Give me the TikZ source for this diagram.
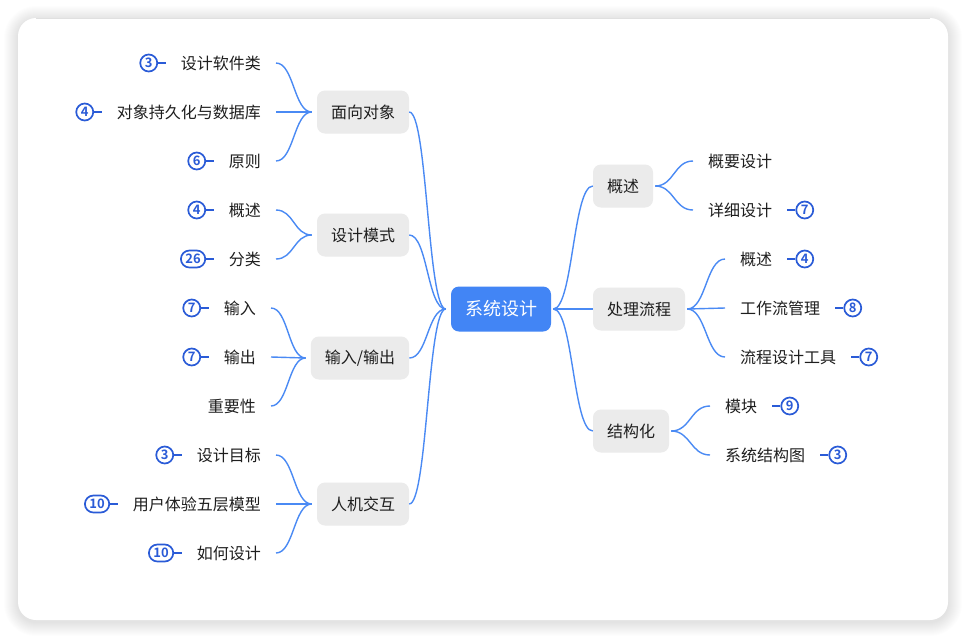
\documentclass[tikz,border=0pt]{standalone}
\usepackage{fontspec}
\setmainfont{Noto Sans CJK SC}[BoldFont={Noto Sans CJK SC Bold}]
\usepackage{tikz}
\usetikzlibrary{positioning, calc}
\definecolor{LinkBlue}{RGB}{74, 138, 244}
\definecolor{RootBlue}{RGB}{66, 133, 245}
\definecolor{BadgeBlue}{RGB}{42, 91, 215}
\definecolor{BoxGray}{RGB}{235, 235, 235}
\definecolor{TextDark}{RGB}{30, 30, 30}

\tikzset{
  curve/.style={to path={let \p1=(\tikztostart), \p2=(\tikztotarget) in
      .. controls ({(\x1+\x2)/2},\y1) and ({(\x1+\x2)/2},\y2) .. (\tikztotarget)}},
  link/.style={draw=LinkBlue, line width=1.4pt},
  rootbox/.style={fill=RootBlue, text=white, rounded corners=8pt, minimum height=45pt,
      inner xsep=14pt, font=\fontsize{18}{20}\selectfont},
  topic/.style={fill=BoxGray, text=TextDark, rounded corners=8pt, minimum height=43pt,
      inner xsep=14pt, font=\fontsize{16}{18}\selectfont},
  leaf/.style={text=TextDark, inner xsep=15pt, inner ysep=3pt, font=\fontsize{16}{18}\selectfont},
  badge/.style={draw=BadgeBlue, text=BadgeBlue, line width=1.7pt, rounded corners=8.5pt,
      minimum height=17pt, minimum width=17pt, inner xsep=4.5pt, inner ysep=0pt,
      font=\fontsize{13}{13}\selectfont\bfseries},
  badgeline/.style={draw=BadgeBlue, line width=1.7pt}
}

\begin{document}
\begin{tikzpicture}[x=1pt, y=-1pt]
  \useasboundingbox (0,0) rectangle (966,638);
  \fill[white] (0,0) rectangle (966,638);

  % card with shadow
  \foreach \i in {1,...,14}
    \fill[black, opacity=0.007, rounded corners={18+\i}] (18-\i,18-\i+2) rectangle (948+\i,620+\i+2);
  \fill[white, rounded corners=18pt] (18,18) rectangle (948,620);
  \draw[black!12, line width=0.6pt] (36,18) -- (930,18);

  % root
  \node[rootbox] (root) at (501,309) {系统设计};

  % left topics
  \node[topic] (oop) at (363,112) {面向对象};
  \node[topic] (pattern) at (363,235) {设计模式};
  \node[topic] (io) at (360,358) {输入/输出};
  \node[topic] (hci) at (363,504) {人机交互};

  % right topics
  \node[topic] (intro) at (623,186) {概述};
  \node[topic] (flow) at (639,309) {处理流程};
  \node[topic] (struct) at (631,431) {结构化};

  \draw[link] ([xshift=-5pt]root.west) to[curve] (oop.east);
  \draw[link] ([xshift=-5pt]root.west) to[curve] (pattern.east);
  \draw[link] ([xshift=-5pt]root.west) to[curve] (io.east);
  \draw[link] ([xshift=-5pt]root.west) to[curve] (hci.east);
  \draw[link] ([xshift=2pt]root.east) to[curve] (intro.west);
  \draw[link] ([xshift=2pt]root.east) to[curve] (flow.west);
  \draw[link] ([xshift=2pt]root.east) to[curve] (struct.west);

  % 面向对象
  \node[leaf, anchor=east] (oop1) at (276,63) {设计软件类};
  \node[leaf, anchor=east] (oop2) at (276,112) {对象持久化与数据库};
  \node[leaf, anchor=east] (oop3) at (276,161) {原则};
  \node[badge, left=7.5pt of oop1] (oopb1) {3};
  \node[badge, left=7.5pt of oop2] (oopb2) {4};
  \node[badge, left=7.5pt of oop3] (oopb3) {6};
  \draw[badgeline] (oopb1) -- (oop1.west);
  \draw[badgeline] (oopb2) -- (oop2.west);
  \draw[badgeline] (oopb3) -- (oop3.west);
  \draw[link] ([xshift=-5pt]oop.west) to[curve] (oop1.east);
  \draw[link] ([xshift=-5pt]oop.west) to[curve] (oop2.east);
  \draw[link] ([xshift=-5pt]oop.west) to[curve] (oop3.east);

  % 设计模式
  \node[leaf, anchor=east] (pat1) at (276,210) {概述};
  \node[leaf, anchor=east] (pat2) at (276,259) {分类};
  \node[badge, left=7.5pt of pat1] (patb1) {4};
  \node[badge, left=7.5pt of pat2] (patb2) {26};
  \draw[badgeline] (patb1) -- (pat1.west);
  \draw[badgeline] (patb2) -- (pat2.west);
  \draw[link] ([xshift=-5pt]pattern.west) to[curve] (pat1.east);
  \draw[link] ([xshift=-5pt]pattern.west) to[curve] (pat2.east);

  % 输入/输出
  \node[leaf, anchor=east] (io1) at (271,308) {输入};
  \node[leaf, anchor=east] (io2) at (271,357) {输出};
  \node[leaf, anchor=east] (io3) at (271,406) {重要性};
  \node[badge, left=7.5pt of io1] (iob1) {7};
  \node[badge, left=7.5pt of io2] (iob2) {7};
  \draw[badgeline] (iob1) -- (io1.west);
  \draw[badgeline] (iob2) -- (io2.west);
  \draw[link] ([xshift=-5pt]io.west) to[curve] (io1.east);
  \draw[link] ([xshift=-5pt]io.west) to[curve] (io2.east);
  \draw[link] ([xshift=-5pt]io.west) to[curve] (io3.east);

  % 人机交互
  \node[leaf, anchor=east] (hci1) at (276,455) {设计目标};
  \node[leaf, anchor=east] (hci2) at (276,504) {用户体验五层模型};
  \node[leaf, anchor=east] (hci3) at (276,553) {如何设计};
  \node[badge, left=7.5pt of hci1] (hcib1) {3};
  \node[badge, left=7.5pt of hci2] (hcib2) {10};
  \node[badge, left=7.5pt of hci3] (hcib3) {10};
  \draw[badgeline] (hcib1) -- (hci1.west);
  \draw[badgeline] (hcib2) -- (hci2.west);
  \draw[badgeline] (hcib3) -- (hci3.west);
  \draw[link] ([xshift=-5pt]hci.west) to[curve] (hci1.east);
  \draw[link] ([xshift=-5pt]hci.west) to[curve] (hci2.east);
  \draw[link] ([xshift=-5pt]hci.west) to[curve] (hci3.east);

  % 概述
  \node[leaf, anchor=west] (int1) at (693,161) {概要设计};
  \node[leaf, anchor=west] (int2) at (693,210) {详细设计};
  \node[badge, right=8pt of int2] (intb2) {7};
  \draw[badgeline] (int2.east) -- (intb2);
  \draw[link] ([xshift=2pt]intro.east) to[curve] (int1.west);
  \draw[link] ([xshift=2pt]intro.east) to[curve] (int2.west);

  % 处理流程
  \node[leaf, anchor=west] (flow1) at (725,259) {概述};
  \node[leaf, anchor=west] (flow2) at (725,308) {工作流管理};
  \node[leaf, anchor=west] (flow3) at (725,357) {流程设计工具};
  \node[badge, right=8pt of flow1] (flowb1) {4};
  \node[badge, right=8pt of flow2] (flowb2) {8};
  \node[badge, right=8pt of flow3] (flowb3) {7};
  \draw[badgeline] (flow1.east) -- (flowb1);
  \draw[badgeline] (flow2.east) -- (flowb2);
  \draw[badgeline] (flow3.east) -- (flowb3);
  \draw[link] ([xshift=2pt]flow.east) to[curve] (flow1.west);
  \draw[link] ([xshift=2pt]flow.east) to[curve] (flow2.west);
  \draw[link] ([xshift=2pt]flow.east) to[curve] (flow3.west);

  % 结构化
  \node[leaf, anchor=west] (str1) at (710,406) {模块};
  \node[leaf, anchor=west] (str2) at (710,455) {系统结构图};
  \node[badge, right=8pt of str1] (strb1) {9};
  \node[badge, right=8pt of str2] (strb2) {3};
  \draw[badgeline] (str1.east) -- (strb1);
  \draw[badgeline] (str2.east) -- (strb2);
  \draw[link] ([xshift=2pt]struct.east) to[curve] (str1.west);
  \draw[link] ([xshift=2pt]struct.east) to[curve] (str2.west);
\end{tikzpicture}
\end{document}
